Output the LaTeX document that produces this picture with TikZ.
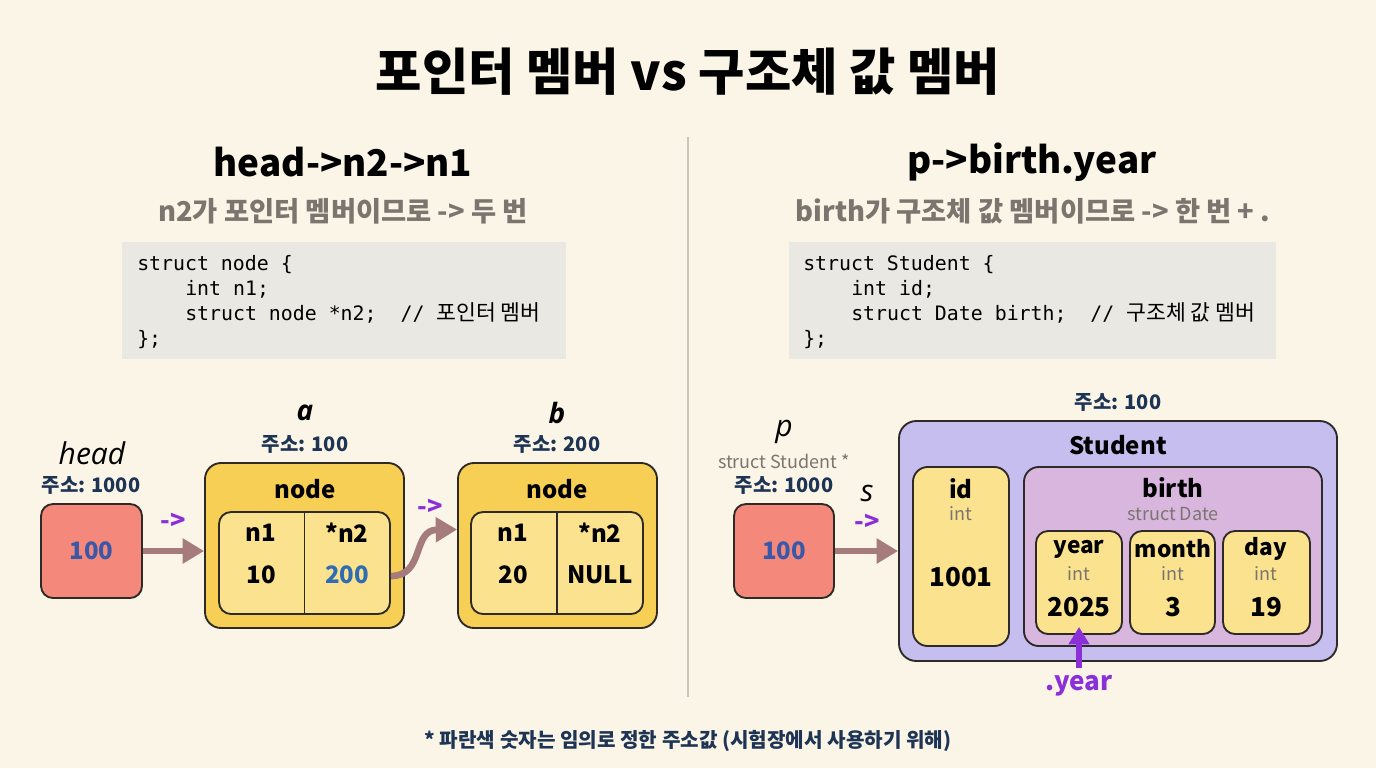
\documentclass[tikz,border=0pt]{standalone}
\usepackage{fontspec}
\setmainfont{Noto Sans CJK KR}
\newfontfamily\cjk{Noto Sans CJK KR}
\newfontfamily\itf{Open Sans}
\newfontfamily\code{DejaVu Sans Mono}
\usetikzlibrary{arrows.meta,calc}
\definecolor{bg}{HTML}{FAF5E6}
\definecolor{edge}{HTML}{2E2A28}
\definecolor{navy}{HTML}{1E3455}
\definecolor{numblue}{HTML}{3A58A8}
\definecolor{numblue2}{HTML}{2F6CB2}
\definecolor{subgray}{HTML}{7A756E}
\definecolor{codebg}{HTML}{EAE8E3}
\definecolor{redbox}{HTML}{F4897B}
\definecolor{goldbox}{HTML}{F7CF55}
\definecolor{lightgold}{HTML}{FBE28E}
\definecolor{mauve}{HTML}{A67B7B}
\definecolor{purp}{HTML}{8B30D8}
\definecolor{lav}{HTML}{C7BEF0}
\definecolor{pinkbox}{HTML}{D9B6DE}
\definecolor{divgray}{HTML}{C9C5BD}
\newcommand{\fs}[1]{\fontsize{#1}{#1}\selectfont}
\newcommand{\kc}[1]{{\cjk\fs{16.2}#1}}
\begin{document}
\begin{tikzpicture}[x=0.75pt,y=-0.75pt,
  wh/.style 2 args={minimum width=#1*0.75pt, minimum height=#2*0.75pt},
  box/.style={draw=edge, line width=1.4pt, rounded corners=9pt, inner sep=0pt},
  lbl/.style={inner sep=0pt, anchor=center},
  addr/.style={lbl, text=navy, font=\bfseries\fs{15}},
  big/.style={lbl, font=\bfseries\fs{18}},
  typ/.style={lbl, text=subgray, font=\fs{13.5}},
  ital/.style={lbl, font=\itf\itshape\fs{22.5}},
  bital/.style={lbl, font=\itf\bfseries\itshape\fs{21}},
  fatarrow/.style={draw=mauve, line width=5pt, -{Triangle[length=16pt,width=18pt]}},
  purparrow/.style={draw=purp, line width=4pt, -{Triangle[length=13pt,width=15pt]}},
  oplbl/.style={lbl, text=purp, font=\bfseries\fs{19}},
  codeline/.style={inner sep=0pt, anchor=base west, font=\code\fs{14.9}}
]
\useasboundingbox (0,0) rectangle (1376,768);
\fill[bg] (0,0) rectangle (1376,768);

% title
\node[lbl, font=\bfseries\fs{37.8}] (title) at (688,72) {포인터 멤버 vs 구조체 값 멤버};
\draw[divgray, line width=1.5pt] (688,137) -- (688,697);

% left headings
\node[lbl, font=\bfseries\fs{27.6}] (lhead) at (343,162) {head->n2->n1};
\node[lbl, text=subgray, font=\bfseries\fs{20.5}] (lsub) at (343,211) {n2가 포인터 멤버이므로 -> 두 번};
\node[fill=codebg, inner sep=0pt, wh={444}{117}] (lcode) at (344,300.5) {};
\node[codeline] (lc1) at (137,270) {struct node \{};
\node[codeline] (lc2) at (185,295) {int n1;};
\node[codeline] (lc3) at (185,320) {struct node *n2;~~//~\kc{포인터 멤버}};
\node[codeline] (lc4) at (137,345) {\};};

% right headings
\node[lbl, font=\bfseries\fs{27.6}] (rhead) at (1032,162) {p->birth.year};
\node[lbl, text=subgray, font=\bfseries\fs{20.5}] (rsub) at (1033,211) {birth가 구조체 값 멤버이므로 -> 한 번 + .};
\node[fill=codebg, inner sep=0pt, wh={487}{117}] (rcode) at (1032.5,300.5) {};
\node[codeline] (rc1) at (803,270) {struct Student \{};
\node[codeline] (rc2) at (851,295) {int id;};
\node[codeline] (rc3) at (851,320) {struct Date birth;~~//~\kc{구조체 값 멤버}};
\node[codeline] (rc4) at (803,345) {\};};

% ---------- left diagram ----------
\node[ital] (headname) at (92,453) {head};
\node[addr] (headaddr) at (91,485) {주소: 1000};
\node[box, fill=redbox, wh={101}{94}] (headbox) at (91.5,551) {};
\node[big, text=numblue] (headval) at (headbox.center) {100};

\node[bital] (aname) at (305,413) {a};
\node[addr] (aaddr) at (305,444) {주소: 100};
\node[box, fill=goldbox, rounded corners=12pt, wh={199}{165}] (nodeA) at (304.5,545.5) {};
\node[big] (atitle) at (305,489) {node};
\node[box, fill=lightgold, wh={171}{102}] (ain) at (304.5,563) {};
\draw[edge, line width=1.4pt] (ain.north) -- (ain.south);
\node[big] (an1) at (261,533) {n1};
\node[big] (an1v) at (261,575) {10};
\node[big] (an2) at (347,533) {*n2};
\node[big, text=numblue2] (an2v) at (347,575) {200};

\node[bital] (bname) at (557,413) {b};
\node[addr] (baddr) at (557,444) {주소: 200};
\node[box, fill=goldbox, rounded corners=12pt, wh={199}{165}] (nodeB) at (557.5,545.5) {};
\node[big] (btitle) at (557,489) {node};
\node[box, fill=lightgold, wh={172}{102}] (bin) at (557,563) {};
\draw[edge, line width=1.4pt] (bin.north) -- (bin.south);
\node[big] (bn1) at (513,533) {n1};
\node[big] (bn1v) at (513,575) {20};
\node[big] (bn2) at (600,533) {*n2};
\node[big] (bn2v) at (600,575) {NULL};

\draw[fatarrow] (headbox.east) -- (headbox.east -| nodeA.west);
\node[oplbl] (op1) at (173,521) {->};
\coordinate (cstart) at ($(ain.east)+(0,13)$);
\coordinate (cend) at ($(nodeB.west)+(0,-16)$);
\draw[fatarrow] (cstart) .. controls (425,576) and (412,530) .. (cend);
\node[oplbl] (op2) at (430,507) {->};

% ---------- right diagram ----------
\node[ital] (pname) at (784,432) {p};
\node[typ] (ptype) at (784,461) {struct Student *};
\node[addr] (paddr) at (784,485) {주소: 1000};
\node[box, fill=redbox, wh={100}{94}] (pbox) at (784,551) {};
\node[big, text=numblue] (pval) at (pbox.center) {100};

\node[addr] (saddr) at (1118,402) {주소: 100};
\node[box, fill=lav, rounded corners=13pt, wh={438}{240}] (student) at (1118,541) {};
\node[big] (stitle) at (1118,445) {Student};

\node[box, fill=lightgold, rounded corners=11pt, wh={96}{179}] (idbox) at (961,556.5) {};
\node[big] (idname) at (961,489) {id};
\node[typ] (idtype) at (961,514) {int};
\node[big, font=\bfseries\fs{19.5}] (idval) at (961,577) {1001};

\node[box, fill=pinkbox, rounded corners=11pt, wh={298}{179}] (birth) at (1173,556.5) {};
\node[big] (bname2) at (1173,488) {birth};
\node[typ] (btype) at (1173,514) {struct Date};

\node[box, fill=lightgold, wh={86}{103}] (year) at (1079,582.5) {};
\node[big, font=\bfseries\fs{17}] (yname) at (1079,549) {year};
\node[typ] (ytype) at (1079,574) {int};
\node[big, font=\bfseries\fs{19.5}] (yval) at (1079,607) {2025};

\node[box, fill=lightgold, wh={85}{103}] (month) at (1172.5,582.5) {};
\node[big, font=\bfseries\fs{17}] (mname) at (1173,549) {month};
\node[typ] (mtype) at (1173,574) {int};
\node[big, font=\bfseries\fs{19.5}] (mval) at (1173,607) {3};

\node[box, fill=lightgold, wh={87}{103}] (day) at (1266.5,582.5) {};
\node[big, font=\bfseries\fs{17}] (dname) at (1266,549) {day};
\node[typ] (dtype) at (1266,574) {int};
\node[big, font=\bfseries\fs{19.5}] (dval) at (1266,607) {19};

\draw[fatarrow] (pbox.east) -- (pbox.east -| student.west);
\node[ital] (sname) at (867,493) {s};
\node[oplbl] (op3) at (867,522) {->};

\coordinate (ytail) at (1079,668);
\draw[purparrow] (ytail) -- ($(year.south)+(0,-8)$);
\node[lbl, text=purp, font=\bfseries\fs{19.5}] (dotyear) at (1079,686) {.year};

% footer
\node[lbl, text=navy, font=\bfseries\fs{15.1}] (foot) at (688,741) {* 파란색 숫자는 임의로 정한 주소값 (시험장에서 사용하기 위해)};
\end{tikzpicture}
\end{document}
